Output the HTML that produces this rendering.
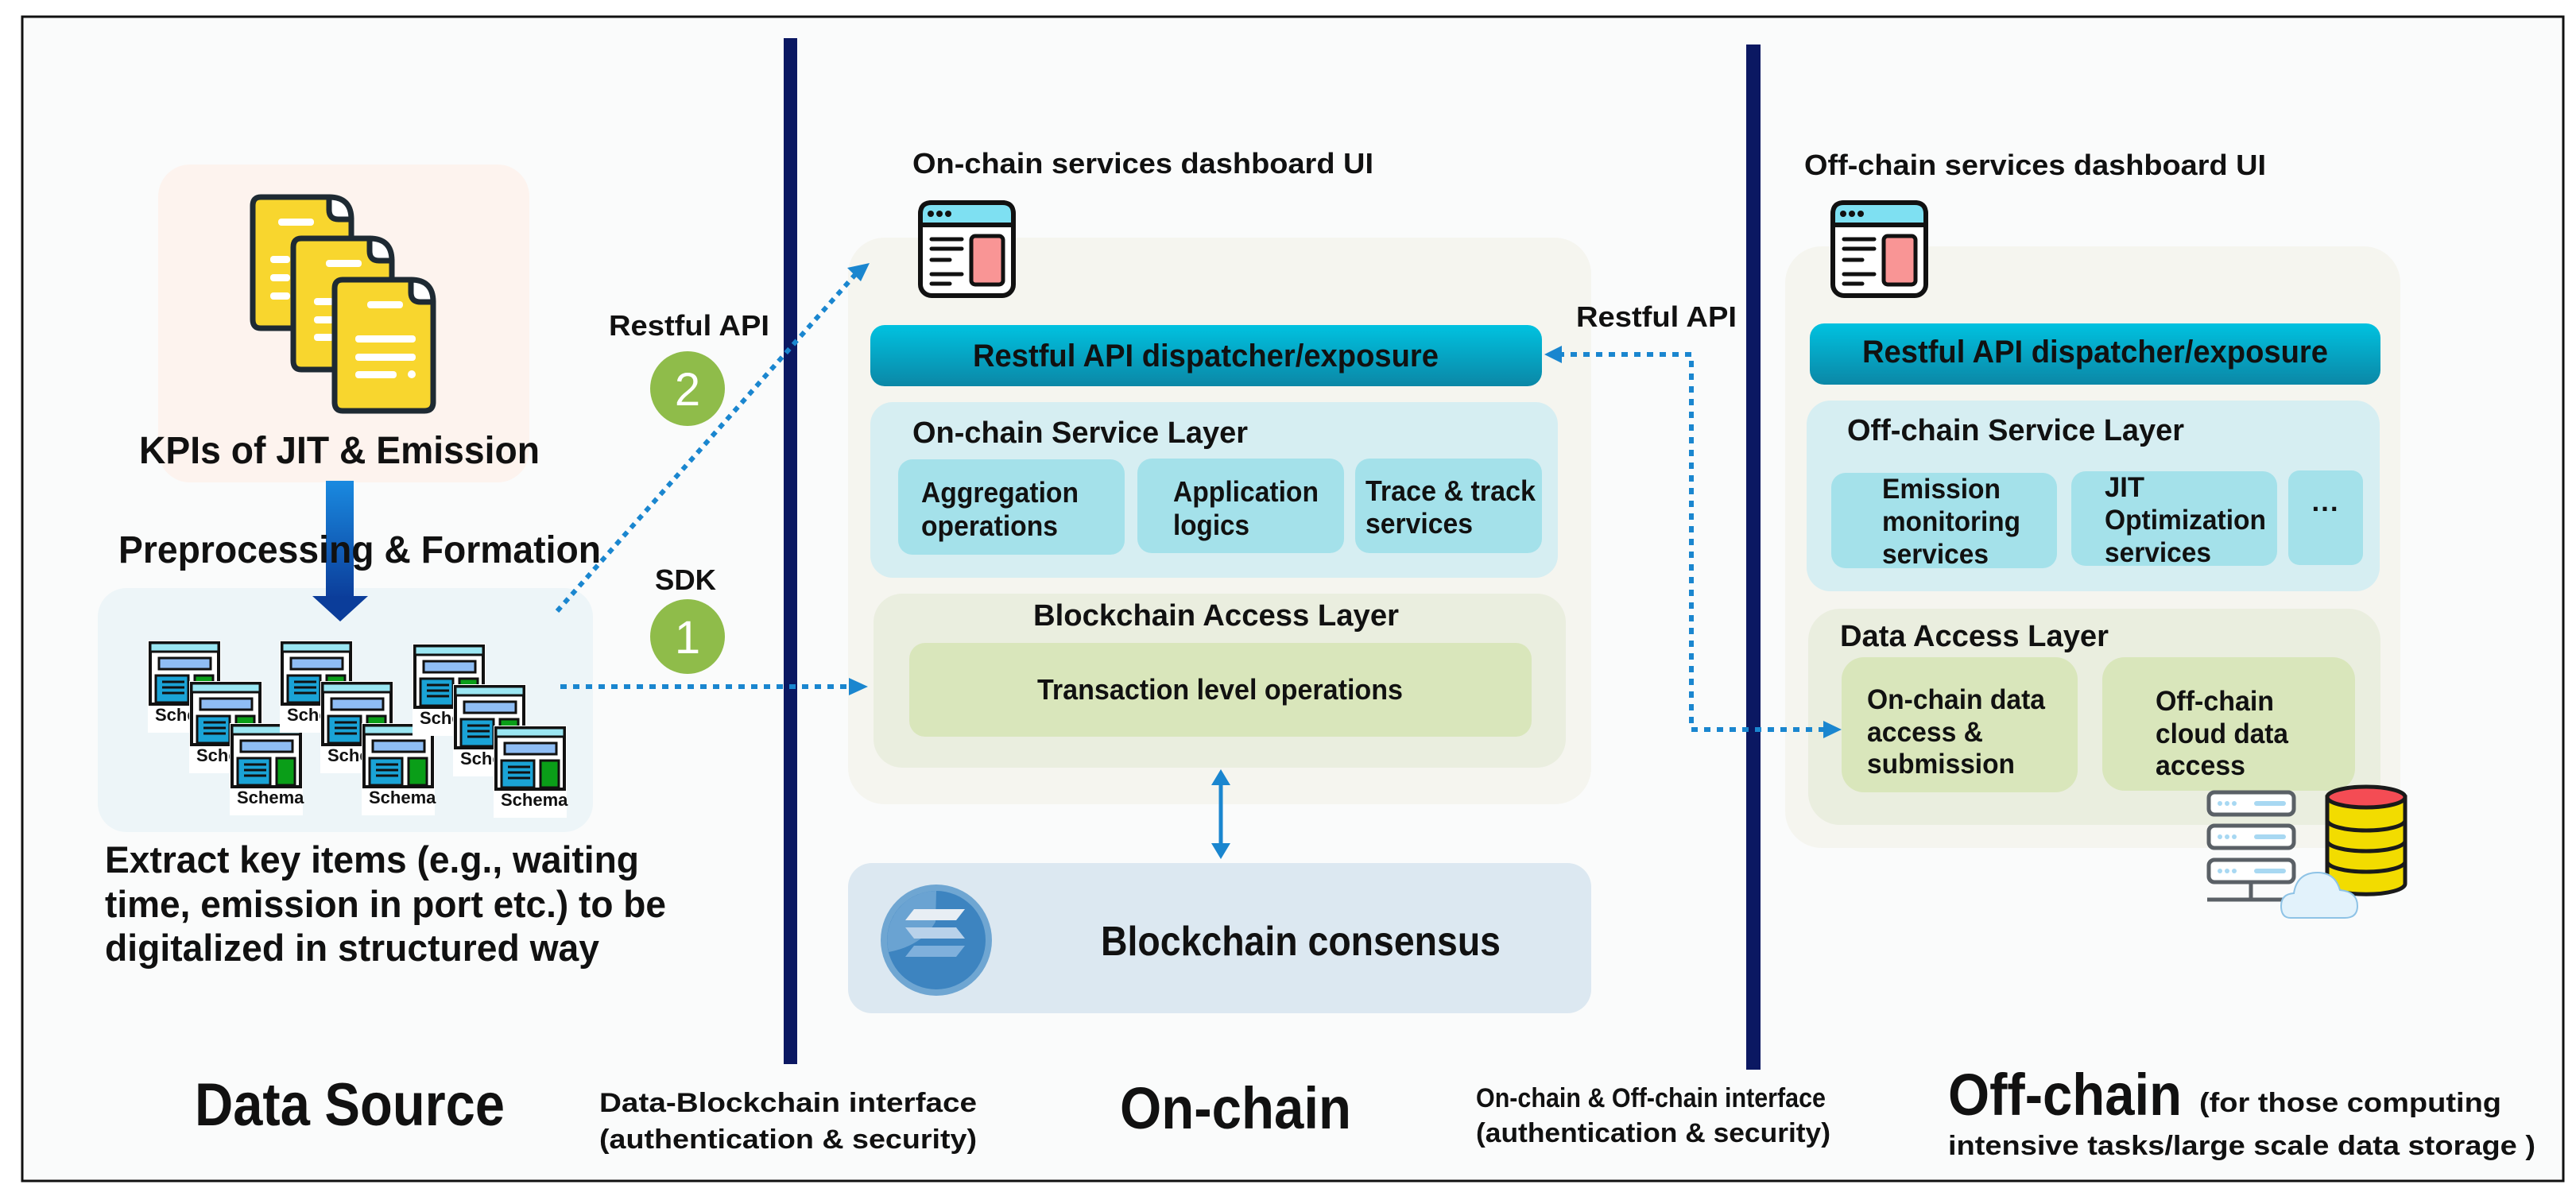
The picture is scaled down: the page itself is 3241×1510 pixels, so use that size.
<!DOCTYPE html>
<html><head><meta charset="utf-8"><style>
html,body{margin:0;padding:0;background:#fff;}
svg{display:block;}
text{font-family:"Liberation Sans",Arial,sans-serif;font-weight:bold;fill:#111;}
</style></head><body>
<svg width="3241" height="1510" viewBox="0 0 3241 1510" xmlns="http://www.w3.org/2000/svg">
<defs>
<linearGradient id="bar" x1="0" y1="0" x2="0" y2="1"><stop offset="0" stop-color="#00c2e0"/><stop offset="1" stop-color="#0b87a6"/></linearGradient>
<linearGradient id="arr" x1="0" y1="0" x2="0" y2="1"><stop offset="0" stop-color="#1a8ae0"/><stop offset="1" stop-color="#0b3d9a"/></linearGradient>
<g id="dash">
<rect x="3" y="3" width="117" height="117" rx="14" fill="#fff" stroke="#111" stroke-width="6"/>
<path d="M3,31 V17 Q3,3 17,3 H106 Q120,3 120,17 V31 Z" fill="#7ee0f2" stroke="#111" stroke-width="6"/>
<circle cx="16" cy="17" r="4" fill="#111"/><circle cx="27" cy="17" r="4" fill="#111"/><circle cx="38" cy="17" r="4" fill="#111"/>
<g stroke="#111" stroke-width="5" stroke-linecap="round"><line x1="17" y1="49" x2="55" y2="49"/><line x1="17" y1="61" x2="55" y2="61"/><line x1="17" y1="75" x2="40" y2="75"/><line x1="17" y1="93" x2="55" y2="93"/><line x1="17" y1="105" x2="40" y2="105"/></g>
<rect x="67" y="45" width="40" height="61" rx="5" fill="#f99595" stroke="#111" stroke-width="5"/>
</g>
<g id="sch">
<rect x="0" y="0" width="92" height="116" fill="#fff"/>
<rect x="3" y="3" width="86" height="77" fill="#fff" stroke="#111" stroke-width="4"/>
<rect x="3" y="3" width="86" height="11" fill="#9be6f2" stroke="#111" stroke-width="3"/>
<rect x="14" y="22" width="65" height="14" fill="#8fbdf4" stroke="#111" stroke-width="3"/>
<rect x="10" y="44" width="41" height="34" fill="#1aa3d6" stroke="#111" stroke-width="3"/>
<g stroke="#111" stroke-width="3"><line x1="18" y1="52" x2="46" y2="52"/><line x1="18" y1="59" x2="46" y2="59"/><line x1="18" y1="66" x2="46" y2="66"/></g>
<rect x="59" y="44" width="23" height="34" fill="#0a9e18" stroke="#111" stroke-width="3"/>
</g>
<g id="doc">
<path d="M14,4 H100 L128,32 V158 Q128,169 117,169 H14 Q4,169 4,158 V15 Q4,4 14,4 Z" fill="#f8d62e" stroke="#1e2a33" stroke-width="7"/>
<path d="M100,4 Q128,4 128,32 H112 Q100,32 100,20 Z" fill="#fff" stroke="#1e2a33" stroke-width="7"/>
</g>
</defs>

<rect x="0" y="0" width="3241" height="1510" fill="#fff"/>
<rect x="28" y="21" width="3197" height="1465" fill="#fafbfb" stroke="#111" stroke-width="3"/>

<rect x="986" y="48" width="17" height="1291" fill="#0b1862"/>
<rect x="2197" y="56" width="18" height="1290" fill="#0b1862"/>

<!-- LEFT -->
<rect x="199" y="207" width="467" height="400" rx="40" fill="#fdf3ee"/>
<use href="#doc" x="314" y="244"/>
<g fill="#fff"><rect x="350" y="275" width="45" height="9" rx="4"/><rect x="340" y="322" width="25" height="9" rx="4"/><rect x="340" y="345" width="25" height="9" rx="4"/><rect x="340" y="368" width="25" height="9" rx="4"/></g>
<use href="#doc" x="365" y="296"/>
<g fill="#fff"><rect x="410" y="327" width="45" height="9" rx="4"/><rect x="395" y="375" width="25" height="9" rx="4"/><rect x="395" y="398" width="25" height="9" rx="4"/><rect x="395" y="420" width="25" height="9" rx="4"/></g>
<use href="#doc" x="417" y="348"/>
<g fill="#fff"><rect x="462" y="379" width="45" height="9" rx="4"/><rect x="447" y="422" width="76" height="9" rx="4"/><rect x="447" y="445" width="76" height="9" rx="4"/><rect x="447" y="467" width="52" height="9" rx="4"/><circle cx="518" cy="471" r="5"/></g>
<text x="175" y="583" font-size="48" textLength="504" lengthAdjust="spacingAndGlyphs">KPIs of JIT &amp; Emission</text>

<rect x="123" y="740" width="623" height="307" rx="36" fill="#edf5f8"/>
<rect x="410" y="605" width="35" height="148" fill="url(#arr)"/>
<polygon points="393,750 463,750 428,782" fill="#0b3d9a"/>
<text x="149" y="708" font-size="48" textLength="607" lengthAdjust="spacingAndGlyphs">Preprocessing &amp; Formation</text>

<g>
<use href="#sch" x="186" y="806"/><text x="195" y="907" font-size="22">Schema</text>
<use href="#sch" x="238" y="857"/><text x="247" y="958" font-size="22">Schema</text>
<use href="#sch" x="289" y="910"/><text x="298" y="1011" font-size="22">Schema</text>
<use href="#sch" x="352" y="806"/><text x="361" y="907" font-size="22">Schema</text>
<use href="#sch" x="403" y="857"/><text x="412" y="958" font-size="22">Schema</text>
<use href="#sch" x="455" y="910"/><text x="464" y="1011" font-size="22">Schema</text>
<use href="#sch" x="519" y="810"/><text x="528" y="911" font-size="22">Schema</text>
<use href="#sch" x="570" y="861"/><text x="579" y="962" font-size="22">Schema</text>
<use href="#sch" x="621" y="913"/><text x="630" y="1014" font-size="22">Schema</text>
</g>

<text x="132" y="1098" font-size="47" textLength="672" lengthAdjust="spacingAndGlyphs">Extract key items (e.g., waiting</text>
<text x="132" y="1154" font-size="47" textLength="706" lengthAdjust="spacingAndGlyphs">time, emission in port etc.) to be</text>
<text x="132" y="1209" font-size="47" textLength="622" lengthAdjust="spacingAndGlyphs">digitalized in structured way</text>
<text x="245" y="1416" font-size="76" textLength="390" lengthAdjust="spacingAndGlyphs">Data Source</text>

<text x="766" y="422" font-size="36" textLength="202" lengthAdjust="spacingAndGlyphs">Restful API</text>
<circle cx="865" cy="489" r="47" fill="#8fbc4a"/>
<text x="865" y="510" font-size="58" text-anchor="middle" style="fill:#fff;font-weight:normal">2</text>
<text x="824" y="742" font-size="36" textLength="77" lengthAdjust="spacingAndGlyphs">SDK</text>
<circle cx="865" cy="801" r="47" fill="#8fbc4a"/>
<text x="865" y="822" font-size="58" text-anchor="middle" style="fill:#fff;font-weight:normal">1</text>
<text x="754" y="1399" font-size="34" textLength="475" lengthAdjust="spacingAndGlyphs">Data-Blockchain interface</text>
<text x="754" y="1445" font-size="34" textLength="475" lengthAdjust="spacingAndGlyphs">(authentication &amp; security)</text>

<!-- ON-CHAIN -->
<text x="1148" y="218" font-size="36" textLength="580" lengthAdjust="spacingAndGlyphs">On-chain services dashboard UI</text>
<rect x="1067" y="299" width="935" height="713" rx="46" fill="#f5f5ef"/>
<use href="#dash" x="1155" y="252"/>
<rect x="1095" y="409" width="845" height="77" rx="18" fill="url(#bar)"/>
<text x="1517" y="461" font-size="40" text-anchor="middle" textLength="586" lengthAdjust="spacingAndGlyphs">Restful API dispatcher/exposure</text>
<rect x="1095" y="506" width="865" height="221" rx="28" fill="#d6eef2"/>
<text x="1148" y="557" font-size="38" textLength="422" lengthAdjust="spacingAndGlyphs">On-chain Service Layer</text>
<rect x="1130" y="578" width="285" height="120" rx="18" fill="#a4e1ea"/>
<rect x="1431" y="577" width="260" height="119" rx="18" fill="#a4e1ea"/>
<rect x="1705" y="577" width="235" height="119" rx="18" fill="#a4e1ea"/>
<text x="1159" y="632" font-size="36" textLength="198" lengthAdjust="spacingAndGlyphs">Aggregation</text>
<text x="1159" y="674" font-size="36" textLength="172" lengthAdjust="spacingAndGlyphs">operations</text>
<text x="1476" y="631" font-size="36" textLength="183" lengthAdjust="spacingAndGlyphs">Application</text>
<text x="1476" y="673" font-size="36" textLength="96" lengthAdjust="spacingAndGlyphs">logics</text>
<text x="1718" y="630" font-size="36" textLength="214" lengthAdjust="spacingAndGlyphs">Trace &amp; track</text>
<text x="1718" y="671" font-size="36" textLength="135" lengthAdjust="spacingAndGlyphs">services</text>
<rect x="1099" y="747" width="871" height="219" rx="36" fill="#eaeedf"/>
<text x="1530" y="787" font-size="38" text-anchor="middle" textLength="460" lengthAdjust="spacingAndGlyphs">Blockchain Access Layer</text>
<rect x="1144" y="809" width="783" height="118" rx="20" fill="#d9e6bb"/>
<text x="1535" y="880" font-size="36" text-anchor="middle" textLength="460" lengthAdjust="spacingAndGlyphs">Transaction level operations</text>
<line x1="1536" y1="985" x2="1536" y2="1065" stroke="#1a86cf" stroke-width="5"/>
<polygon points="1536,968 1524,988 1548,988" fill="#1a86cf"/>
<polygon points="1536,1081 1524,1061 1548,1061" fill="#1a86cf"/>
<rect x="1067" y="1086" width="935" height="189" rx="30" fill="#dce8f1"/>
<circle cx="1178" cy="1183" r="70" fill="#6fa6d2"/>
<circle cx="1178" cy="1183" r="62" fill="#3d84c0"/>
<path d="M1178,1121 A62,62 0 0,0 1118,1198 Q1160,1190 1177,1160 Z" fill="#6aa3d2"/>
<polygon points="1150,1144 1214,1144 1203,1158 1139,1158" fill="#e8eef4"/>
<polygon points="1139,1167 1203,1167 1214,1181 1150,1181" fill="#b9d2ea"/>
<polygon points="1150,1190 1214,1190 1203,1204 1139,1204" fill="#7fb0dc"/>
<text x="1385" y="1202" font-size="52" textLength="503" lengthAdjust="spacingAndGlyphs">Blockchain consensus</text>
<text x="1409" y="1420" font-size="74" textLength="291" lengthAdjust="spacingAndGlyphs">On-chain</text>
<text x="1857" y="1393" font-size="34" textLength="440" lengthAdjust="spacingAndGlyphs">On-chain &amp; Off-chain interface</text>
<text x="1857" y="1437" font-size="34" textLength="446" lengthAdjust="spacingAndGlyphs">(authentication &amp; security)</text>
<text x="1983" y="411" font-size="36" textLength="202" lengthAdjust="spacingAndGlyphs">Restful API</text>

<!-- OFF-CHAIN -->
<text x="2270" y="220" font-size="36" textLength="581" lengthAdjust="spacingAndGlyphs">Off-chain services dashboard UI</text>
<rect x="2246" y="310" width="774" height="757" rx="46" fill="#f5f5ef"/>
<use href="#dash" x="2303" y="252"/>
<rect x="2277" y="407" width="718" height="77" rx="18" fill="url(#bar)"/>
<text x="2636" y="456" font-size="40" text-anchor="middle" textLength="586" lengthAdjust="spacingAndGlyphs">Restful API dispatcher/exposure</text>
<rect x="2273" y="504" width="721" height="240" rx="30" fill="#d6eef2"/>
<text x="2324" y="554" font-size="38" textLength="424" lengthAdjust="spacingAndGlyphs">Off-chain Service Layer</text>
<rect x="2304" y="595" width="284" height="120" rx="18" fill="#a4e1ea"/>
<rect x="2606" y="593" width="259" height="119" rx="18" fill="#a4e1ea"/>
<rect x="2879" y="592" width="94" height="119" rx="14" fill="#a4e1ea"/>
<text x="2368" y="627" font-size="35" textLength="149" lengthAdjust="spacingAndGlyphs">Emission</text>
<text x="2368" y="668" font-size="35" textLength="174" lengthAdjust="spacingAndGlyphs">monitoring</text>
<text x="2368" y="709" font-size="35" textLength="134" lengthAdjust="spacingAndGlyphs">services</text>
<text x="2648" y="625" font-size="35" textLength="50" lengthAdjust="spacingAndGlyphs">JIT</text>
<text x="2648" y="666" font-size="35" textLength="203" lengthAdjust="spacingAndGlyphs">Optimization</text>
<text x="2648" y="707" font-size="35" textLength="134" lengthAdjust="spacingAndGlyphs">services</text>
<text x="2926" y="652" font-size="35" text-anchor="middle">···</text>
<rect x="2275" y="766" width="720" height="272" rx="40" fill="#eaeedf"/>
<text x="2315" y="813" font-size="38" textLength="338" lengthAdjust="spacingAndGlyphs">Data Access Layer</text>
<rect x="2317" y="827" width="297" height="170" rx="28" fill="#d9e6bb"/>
<rect x="2645" y="827" width="318" height="168" rx="28" fill="#d9e6bb"/>
<text x="2349" y="892" font-size="35" textLength="224" lengthAdjust="spacingAndGlyphs">On-chain data</text>
<text x="2349" y="933" font-size="35" textLength="146" lengthAdjust="spacingAndGlyphs">access &amp;</text>
<text x="2349" y="973" font-size="35" textLength="186" lengthAdjust="spacingAndGlyphs">submission</text>
<text x="2712" y="894" font-size="35" textLength="149" lengthAdjust="spacingAndGlyphs">Off-chain</text>
<text x="2712" y="935" font-size="35" textLength="167" lengthAdjust="spacingAndGlyphs">cloud data</text>
<text x="2712" y="975" font-size="35" textLength="113" lengthAdjust="spacingAndGlyphs">access</text>

<g stroke="#5a6066" stroke-width="5" fill="#fff">
<rect x="2779" y="997" width="107" height="28" rx="7"/>
<rect x="2779" y="1039" width="107" height="28" rx="7"/>
<rect x="2779" y="1082" width="107" height="28" rx="7"/>
<line x1="2832" y1="1112" x2="2832" y2="1132"/>
<line x1="2777" y1="1132" x2="2890" y2="1132"/>
</g>
<g fill="#a8d8f2"><rect x="2836" y="1008" width="40" height="6" rx="3"/><rect x="2836" y="1050" width="40" height="6" rx="3"/><rect x="2836" y="1093" width="40" height="6" rx="3"/>
<circle cx="2793" cy="1011" r="3"/><circle cx="2802" cy="1011" r="3"/><circle cx="2811" cy="1011" r="3"/>
<circle cx="2793" cy="1053" r="3"/><circle cx="2802" cy="1053" r="3"/><circle cx="2811" cy="1053" r="3"/>
<circle cx="2793" cy="1096" r="3"/><circle cx="2802" cy="1096" r="3"/><circle cx="2811" cy="1096" r="3"/></g>
<g stroke="#1a1a1a" stroke-width="5">
<path d="M2928,1003 V1112 A48,13 0 0,0 3026,1112 V1003 Z" fill="#f2dc00"/>
<ellipse cx="2977" cy="1003" rx="49" ry="13" fill="#f44c54"/>
<path d="M2928,1032 A49,13 0 0,0 3026,1032 M2928,1058 A49,13 0 0,0 3026,1058 M2928,1084 A49,13 0 0,0 3026,1084" fill="none"/>
</g>
<path d="M2882,1155 Q2870,1155 2870,1140 Q2870,1125 2886,1124 Q2890,1098 2916,1098 Q2938,1098 2944,1120 Q2966,1122 2966,1140 Q2966,1155 2950,1155 Z" fill="#e2f2fb" stroke="#8ec3e6" stroke-width="2"/>

<text x="2451" y="1403" font-size="74" textLength="294" lengthAdjust="spacingAndGlyphs">Off-chain</text>
<text x="2767" y="1399" font-size="34" textLength="380" lengthAdjust="spacingAndGlyphs">(for those computing</text>
<text x="2451" y="1453" font-size="34" textLength="739" lengthAdjust="spacingAndGlyphs">intensive tasks/large scale data storage )</text>

<!-- connectors on top -->
<line x1="701" y1="769" x2="1080" y2="341" stroke="#1a86cf" stroke-width="6" stroke-dasharray="7,7"/>
<polygon points="1094,331 1066,337 1083,354" fill="#1a86cf"/>
<line x1="705" y1="864" x2="1075" y2="864" stroke="#1a86cf" stroke-width="6" stroke-dasharray="8,8"/>
<polygon points="1092,864 1068,853 1068,875" fill="#1a86cf"/>
<polyline points="1960,446 2128,446 2128,918 2300,918" fill="none" stroke="#1a86cf" stroke-width="6" stroke-dasharray="8,8"/>
<polygon points="1943,446 1965,435 1965,457" fill="#1a86cf"/>
<polygon points="2317,918 2294,907 2294,929" fill="#1a86cf"/>
</svg>
</body></html>
